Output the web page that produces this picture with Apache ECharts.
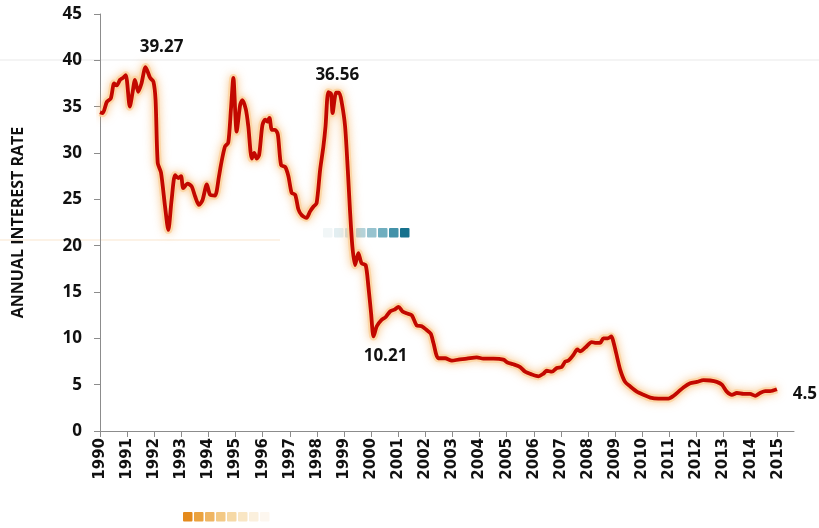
<!DOCTYPE html>
<html>
<head>
<meta charset="utf-8">
<script src="https://cdn.jsdelivr.net/npm/echarts@6/dist/echarts.min.js"></script>
<style>
  html, body { margin: 0; padding: 0; background: #fff; }
  #chart { width: 819px; height: 528px; }
</style>
</head>
<body>
<div id="chart"></div>
<script>
// 时间点（小数年份）
const years = [
  1990.00, 1990.10, 1990.25, 1990.40, 1990.52, 1990.62, 1990.74, 1990.84, 1990.95,
  1991.10, 1991.20, 1991.29, 1991.41, 1991.53, 1991.68, 1991.85, 1991.97,
  1992.05, 1992.13, 1992.25, 1992.40, 1992.52, 1992.64, 1992.77, 1992.89, 1992.99,
  1993.07, 1993.23, 1993.38, 1993.51, 1993.65, 1993.78, 1993.94,
  1994.06, 1994.24, 1994.39, 1994.46, 1994.61, 1994.73, 1994.83, 1994.92,
  1995.04, 1995.17, 1995.25, 1995.38, 1995.47, 1995.60, 1995.69, 1995.78, 1995.87, 1995.99,
  1996.09, 1996.17, 1996.25, 1996.34, 1996.46, 1996.56, 1996.68, 1996.83, 1996.95,
  1997.07, 1997.20, 1997.32, 1997.44, 1997.62, 1997.75, 1997.87, 1997.99,
  1998.12, 1998.24, 1998.32, 1998.42, 1998.52, 1998.58, 1998.71, 1998.82, 1998.92,
  1999.04, 1999.14, 1999.22, 1999.31, 1999.41, 1999.53, 1999.65, 1999.80, 1999.90,
  2000.00, 2000.09, 2000.21, 2000.39, 2000.54, 2000.70, 2000.86,
  2001.01, 2001.16, 2001.31, 2001.50, 2001.68, 2001.87,
  2002.05, 2002.20, 2002.30, 2002.48, 2002.73, 2002.98,
  2003.22, 2003.53, 2003.90, 2004.14, 2004.51, 2004.88,
  2005.03, 2005.25, 2005.50, 2005.68, 2005.93,
  2006.17, 2006.36, 2006.48, 2006.67, 2006.85,
  2007.03, 2007.16, 2007.28, 2007.46, 2007.61, 2007.71, 2007.90,
  2008.14, 2008.30, 2008.45, 2008.57, 2008.73, 2008.86, 2008.94,
  2009.04, 2009.19, 2009.37, 2009.56, 2009.80,
  2010.05, 2010.30, 2010.60, 2010.97,
  2011.16, 2011.34, 2011.52, 2011.77,
  2012.02, 2012.26, 2012.51, 2012.75, 2012.94,
  2013.12, 2013.31, 2013.49, 2013.74, 2013.98,
  2014.17, 2014.35, 2014.54, 2014.72, 2014.97
]

// 年利率
const rates = [
  34.4, 34.3, 35.5, 35.9, 37.5, 37.3, 37.9, 38.1, 38.4,
  35.0, 36.5, 37.9, 36.6, 37.5, 39.27, 38.1, 37.7,
  35.7, 28.9, 27.9, 24.2, 21.7, 24.9, 27.6, 27.3, 27.5,
  26.2, 26.7, 26.4, 25.3, 24.4, 24.9, 26.6,
  25.5, 25.4, 27.5, 28.7, 30.7, 31.1, 34.7, 38.1,
  32.3, 35.2, 35.7, 34.7, 32.9, 29.4, 30.0, 29.4, 29.8, 33.0,
  33.6, 33.4, 33.8, 32.5, 32.5, 32.0, 28.7, 28.5, 27.5,
  25.7, 25.5, 23.9, 23.3, 23.0, 23.7, 24.2, 24.6,
  28.2, 30.7, 32.9, 36.56, 36.4, 34.3, 36.5, 36.5, 35.4,
  32.9, 28.2, 23.9, 19.9, 17.9, 19.2, 18.1, 17.9, 15.6,
  12.7, 10.21, 11.3, 12.0, 12.3, 12.9, 13.1,
  13.4, 12.9, 12.7, 12.5, 11.4, 11.3,
  10.9, 10.5, 9.5, 7.85, 7.85, 7.6,
  7.7, 7.8, 7.95, 7.8, 7.8, 7.7,
  7.4, 7.2, 6.9, 6.4, 6.1,
  5.9, 6.2, 6.5, 6.4, 6.8,
  6.9, 7.5, 7.6, 8.2, 8.8, 8.6, 9.0,
  9.6, 9.5, 9.5, 10.0, 10.0, 10.2, 9.6,
  8.4, 6.6, 5.3, 4.8, 4.25,
  3.9, 3.6, 3.5, 3.5,
  3.8, 4.25, 4.7, 5.15,
  5.3, 5.5, 5.45, 5.3, 5.0,
  4.25, 3.9, 4.1, 4.0, 4.0,
  3.8, 4.1, 4.3, 4.3, 4.5
]

// 标注点
const noteYears = [1991.68, 1998.42, 2000.09, 2014.97]
const noteValues = [39.27, 36.56, 10.21, 4.5]

// X 轴刻度标签
const tickYears = [
  1990, 1991, 1992, 1993, 1994, 1995, 1996, 1997, 1998, 1999, 2000, 2001, 2002,
  2003, 2004, 2005, 2006, 2007, 2008, 2009, 2010, 2011, 2012, 2013, 2014, 2015
]

// 标注偏移
const noteOffsets = [[16, -20], [9, -17], [12, 20], [28, 5]]

const mChart = echarts.init(document.getElementById('chart'))

// 背景装饰色块
const tealColors = ['#f1f6f7', '#e2eef1', '#cfe3e8', '#b4d4dc', '#97c3cf', '#6faebf', '#4392a9', '#16718d']
const orangeColors = ['#e48a1c', '#eba23e', '#efb562', '#f3c985', '#f6d9a6', '#f9e6c4', '#fbf0dd', '#fdf7ef']

const decor = []
tealColors.forEach((c, i) => {
  decor.push({ type: 'rect', shape: { x: 323 + i * 11, y: 228, width: 9.5, height: 9.5, r: 1 }, style: { fill: c }, z: -1 })
})
orangeColors.forEach((c, i) => {
  decor.push({ type: 'rect', shape: { x: 183 + i * 11, y: 512, width: 9.5, height: 9.5, r: 1 }, style: { fill: c }, z: -1 })
})
decor.push({ type: 'line', shape: { x1: 0, y1: 60, x2: 819, y2: 60 }, style: { stroke: '#f1f1f1', lineWidth: 1.5 }, z: -1 })
decor.push({ type: 'line', shape: { x1: 0, y1: 240, x2: 280, y2: 240 }, style: { stroke: '#fbeede', lineWidth: 1.5 }, z: -1 })

const lineData = years.map((y, i) => [y, rates[i]])

const options = {
  backgroundColor: '#fff',
  animation: false,
  graphic: decor,
  grid: {
    top: 14,
    left: 100,
    right: 25,
    bottom: 97
  },
  xAxis: {
    type: 'value',
    min: 1990,
    max: 2015.6,
    interval: 1,
    axisLine: { show: true, lineStyle: { color: '#8c8c8c', width: 1 } },
    axisTick: { show: true, length: 6, customValues: tickYears, lineStyle: { color: '#8c8c8c' } },
    splitLine: { show: false },
    axisLabel: {
      customValues: tickYears,
      formatter: v => String(v),
      rotate: 90,
      margin: 7,
      color: '#111',
      fontFamily: 'DejaVu Sans',
      fontWeight: 'bold',
      fontSize: 15
    }
  },
  yAxis: {
    type: 'value',
    min: 0,
    max: 45,
    interval: 5,
    name: 'ANNUAL INTEREST RATE',
    nameLocation: 'middle',
    nameGap: 74,
    nameTextStyle: {
      color: '#111',
      fontFamily: 'Open Sans',
      fontWeight: 'bold',
      fontSize: 16
    },
    axisLine: { show: true, lineStyle: { color: '#8c8c8c', width: 1 } },
    axisTick: { show: true, length: 6, lineStyle: { color: '#8c8c8c' } },
    splitLine: { show: false },
    axisLabel: {
      margin: 18,
      color: '#111',
      fontFamily: 'Open Sans',
      fontWeight: 'bold',
      fontSize: 17
    }
  },
  series: [
    // 光晕底层
    {
      type: 'line',
      data: lineData,
      showSymbol: false,
      smooth: 0.25,
      silent: true,
      lineStyle: {
        color: 'rgba(252, 212, 160, 0.85)',
        width: 8,
        shadowColor: 'rgba(246, 176, 96, 0.75)',
        shadowBlur: 8
      },
      z: 2
    },
    // 主线
    {
      type: 'line',
      data: lineData,
      showSymbol: false,
      smooth: 0.25,
      lineStyle: {
        color: '#c20800',
        width: 3.8
      },
      z: 3
    },
    {
      type: 'scatter',
      data: noteYears.map((y, i) => ({
        value: [y, noteValues[i]],
        label: { offset: noteOffsets[i] }
      })),
      symbolSize: 0,
      itemStyle: { opacity: 1 },
      label: {
        show: true,
        position: 'inside',
        formatter: p => String(p.value[1]),
        color: '#111',
        fontFamily: 'Open Sans',
        fontWeight: 'bold',
        fontSize: 17
      },
      z: 4
    }
  ]
}
mChart.setOption(options)
</script>
</body>
</html>
